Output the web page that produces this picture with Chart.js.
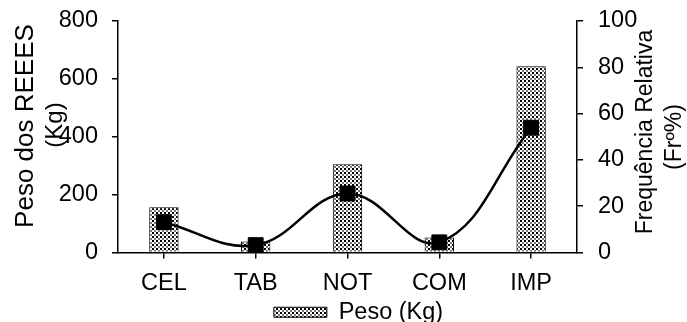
<!DOCTYPE html>
<html>
<head>
<meta charset="utf-8">
<script src="https://cdn.jsdelivr.net/npm/chart.js@4"></script>
<style>
    html, body { margin: 0; padding: 0; background: #fff; }
    #wrap { width: 687px; height: 322px; position: relative; }
</style>
</head>
<body>
<div id="wrap"><canvas id="chart"></canvas></div>
<script>
// data
const categories = ['CEL', 'TAB', 'NOT', 'COM', 'IMP'];
const pesoKg = [156, 38, 305, 52, 644];
const freqRel = [13.1, 3.2, 25.5, 4.4, 53.9];
const leftTicks = [0, 200, 400, 600, 800];
const rightTicks = [0, 20, 40, 60, 80, 100];

const FONT = 'Liberation Sans, Arial, sans-serif';
const FS = 23.5;

// dotted fill like the reference bars
function dotPattern() {
    const c = document.createElement('canvas');
    c.width = 4; c.height = 4;
    const g = c.getContext('2d');
    g.fillStyle = '#fff';
    g.fillRect(0, 0, 4, 4);
    g.fillStyle = '#000';
    g.fillRect(0, 0, 2, 2);
    g.fillStyle = '#777';
    g.fillRect(2, 2, 2, 2);
    return g.createPattern(c, 'repeat');
}

// axis titles drawn by hand so they can overlap the tick labels like the original
const axisTitles = {
    id: 'axisTitles',
    afterDraw(chart) {
        const ctx = chart.ctx;
        ctx.save();
        ctx.fillStyle = '#000';
        ctx.textAlign = 'center';
        ctx.textBaseline = 'alphabetic';
        const put = (txt, x, y, size) => {
            ctx.save();
            ctx.translate(x, y);
            ctx.rotate(-Math.PI / 2);
            ctx.font = size + 'px ' + FONT;
            ctx.fillText(txt, 0, 0);
            ctx.restore();
        };
        put('Peso dos REEES', 33, 126, 26);
        put('(Kg)', 62, 125, 24);
        put('Frequência Relativa', 652, 132, 23);
        put('(Frº%)', 681, 137, 23);
        ctx.restore();
    }
};

// let the chart area reach the top/bottom tick label centres
const noVPad = s => { s.paddingTop = 0; s.paddingBottom = 0; };

const pattern = dotPattern();

new Chart(document.getElementById('chart'), {
    type: 'bar',
    data: {
        labels: categories,
        datasets: [
            {
                type: 'line',
                label: 'Fr%',
                data: freqRel,
                yAxisID: 'y1',
                borderColor: '#000',
                backgroundColor: '#000',
                borderWidth: 2.5,
                tension: 0.4,
                pointStyle: 'rect',
                pointRadius: 10.5,
                pointBorderWidth: 1,
                order: 0
            },
            {
                label: 'Peso (Kg)',
                data: pesoKg,
                yAxisID: 'y',
                backgroundColor: pattern,
                borderColor: '#000',
                borderWidth: 1,
                barPercentage: 0.32,
                categoryPercentage: 1,
                order: 1
            }
        ]
    },
    options: {
        responsive: true,
        maintainAspectRatio: false,
        animation: false,
        layout: { padding: { left: 30, right: 0, top: 21, bottom: -12 } },
        plugins: {
            tooltip: { enabled: false },
            legend: {
                position: 'bottom',
                labels: {
                    filter: item => item.datasetIndex === 1,
                    boxWidth: 53,
                    boxHeight: 10,
                    padding: 0,
                    color: '#000',
                    font: { family: FONT, size: FS }
                }
            }
        },
        scales: {
            x: {
                afterFit: s => { s.height = 48; s.paddingLeft = 0; s.paddingRight = 0; },
                grid: { display: true, drawOnChartArea: false, offset: false, color: '#000', tickLength: 6, lineWidth: 1.5 },
                border: { display: true, color: '#000', width: 1.5 },
                ticks: { color: '#000', font: { family: FONT, size: FS }, padding: 11 }
            },
            y: {
                position: 'left',
                min: 0,
                max: 800,
                afterBuildTicks: s => { s.ticks = leftTicks.map(v => ({ value: v })); },
                afterFit: s => { s.width = 88; noVPad(s); },
                grid: { display: true, drawOnChartArea: false, color: '#000', tickLength: 6, lineWidth: 1.5 },
                border: { display: true, color: '#000', width: 1.5 },
                ticks: { color: '#000', font: { family: FONT, size: FS }, padding: 14 }
            },
            y1: {
                position: 'right',
                min: 0,
                max: 100,
                afterBuildTicks: s => { s.ticks = rightTicks.map(v => ({ value: v })); },
                afterFit: s => { s.width = 110; noVPad(s); },
                grid: { display: true, drawOnChartArea: false, color: '#000', tickLength: 6, lineWidth: 1.5 },
                border: { display: true, color: '#000', width: 1.5 },
                ticks: { color: '#000', font: { family: FONT, size: FS }, padding: 15 }
            }
        }
    },
    plugins: [axisTitles]
});
</script>
</body>
</html>
